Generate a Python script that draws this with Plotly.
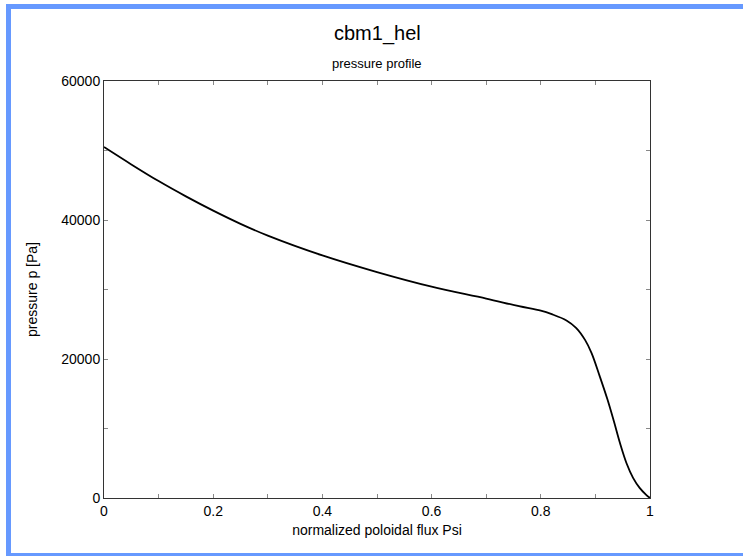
import plotly.graph_objects as go

# Data
psi = [0, 0.05, 0.1, 0.15, 0.2, 0.25, 0.3, 0.4, 0.5, 0.6, 0.7, 0.76, 0.8, 0.82, 0.847,
       0.865, 0.881, 0.893, 0.908, 0.922, 0.934, 0.945, 0.957, 0.969, 0.981, 0.993, 1.0]
pressure = [50500, 48000, 45600, 43400, 41350, 39450, 37750, 34900, 32500, 30400, 28700,
            27600, 26950, 26450, 25550, 24450, 22750, 20850, 17500, 14200, 11000,
            7900, 5000, 2900, 1450, 450, 0]

x_ticks = [0, 0.2, 0.4, 0.6, 0.8, 1]
x_ticklabels = ["0", "0.2", "0.4", "0.6", "0.8", "1"]
y_ticks = [0, 20000, 40000, 60000]
y_ticklabels = ["0", "20000", "40000", "60000"]

title_text = "cbm1_hel"
subtitle_text = "pressure profile"
x_title = "normalized poloidal flux Psi"
y_title = "pressure p [Pa]"

W, H = 743, 556
ML, MR, MT, MB = 104, 93, 81, 58
PW, PH = W - ML - MR, H - MT - MB

def px(x):
    return (x - ML) / PW

def py(y):
    return (H - MB - y) / PH

FONT = "Liberation Sans, Arial, Helvetica, sans-serif"

fig = go.Figure()
fig.add_trace(go.Scatter(x=psi, y=pressure, mode="lines",
                         line=dict(color="black", width=1.8, shape="spline", smoothing=1.0),
                         showlegend=False, hoverinfo="x+y"))

axis_common = dict(
    showgrid=False, zeroline=False, showline=True, linecolor="#333333", linewidth=1,
    mirror="ticks", ticks="inside", ticklen=4, tickcolor="#888888", tickwidth=1,
    tickfont=dict(family=FONT, size=14, color="black"),
)

fig.update_xaxes(range=[0, 1], tickvals=x_ticks, ticktext=x_ticklabels,
                 minor=dict(dtick=0.1, tick0=0, ticks="inside", ticklen=4, tickcolor="#888888"),
                 title=dict(text=x_title, font=dict(family=FONT, size=14, color="black"), standoff=7),
                 **axis_common)
fig.update_yaxes(range=[0, 60000], tickvals=y_ticks, ticktext=y_ticklabels,
                 minor=dict(dtick=10000, tick0=0, ticks="inside", ticklen=4, tickcolor="#888888"),
                 title=dict(text=y_title, font=dict(family=FONT, size=14, color="black"), standoff=20),
                 **axis_common)

border = "#6699ff"
shapes = [
    dict(type="rect", xref="paper", yref="paper", x0=px(6), x1=px(11), y0=py(556), y1=py(4),
         fillcolor=border, line=dict(width=0), layer="above"),
    dict(type="rect", xref="paper", yref="paper", x0=px(6), x1=px(743), y0=py(9), y1=py(4),
         fillcolor=border, line=dict(width=0), layer="above"),
    dict(type="rect", xref="paper", yref="paper", x0=px(6), x1=px(743), y0=py(556), y1=py(553),
         fillcolor=border, line=dict(width=0), layer="above"),
]

annotations = [
    dict(text=title_text, xref="paper", yref="paper", x=px(377), y=py(33),
         xanchor="center", yanchor="middle", showarrow=False,
         font=dict(family=FONT, size=20, color="black")),
    dict(text=subtitle_text, xref="paper", yref="paper", x=px(377), y=py(63),
         xanchor="center", yanchor="middle", showarrow=False,
         font=dict(family=FONT, size=13, color="black")),
]

fig.update_layout(width=W, height=H, margin=dict(l=ML, r=MR, t=MT, b=MB),
                  paper_bgcolor="white", plot_bgcolor="white",
                  shapes=shapes, annotations=annotations,
                  font=dict(family=FONT, size=14, color="black"))

fig.write_html("out.html")
